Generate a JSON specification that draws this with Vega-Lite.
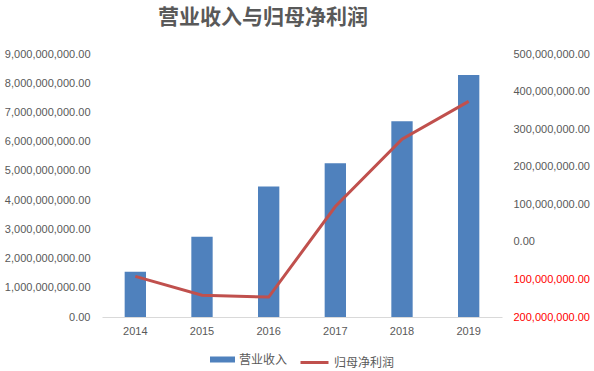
{
  "$schema": "https://vega.github.io/schema/vega-lite/v6.json",
  "autosize": "none",
  "width": 400,
  "height": 263,
  "padding": {"left": 102, "top": 54, "right": 92, "bottom": 54},
  "background": "white",
  "title": {
    "text": "营业收入与归母净利润",
    "anchor": "start",
    "frame": "group",
    "dx": 56,
    "offset": 20,
    "fontSize": 21,
    "font": "Noto Sans CJK SC",
    "fontWeight": "bold",
    "color": "#595959"
  },
  "config": {
    "view": {"stroke": null},
    "axis": {"labelFont": "Liberation Sans", "labelFontSize": 11, "labelColor": "#595959", "grid": false, "ticks": false, "title": null}
  },
  "data": {
    "values": [
      {"year": "2014", "revenue": 1546000000, "profit": -92000000},
      {"year": "2015", "revenue": 2750000000, "profit": -142000000},
      {"year": "2016", "revenue": 4470000000, "profit": -147000000},
      {"year": "2017", "revenue": 5260000000, "profit": 94000000},
      {"year": "2018", "revenue": 6700000000, "profit": 273000000},
      {"year": "2019", "revenue": 8280000000, "profit": 374000000}
    ]
  },
  "encoding": {
    "x": {
      "field": "year",
      "type": "nominal",
      "scale": {"paddingInner": 0.68, "paddingOuter": 0.34},
      "axis": {"labelAngle": 0, "domainColor": "#d9d9d9", "labelPadding": 8, "title": null}
    }
  },
  "layer": [
    {
      "mark": {"type": "bar", "color": "#4f81bd"},
      "encoding": {
        "y": {
          "field": "revenue",
          "type": "quantitative",
          "scale": {"domain": [0, 9000000000]},
          "axis": {"values": [0, 1000000000, 2000000000, 3000000000, 4000000000, 5000000000, 6000000000, 7000000000, 8000000000, 9000000000], "format": ",.2f", "domain": false, "labelPadding": 12, "orient": "left"}
        },
        "color": {
          "datum": "营业收入",
          "scale": {"range": ["#4f81bd"]},
          "legend": {
            "orient": "none", "legendX": 108, "legendY": 293, "title": null,
            "symbolType": "M-1,-0.24H1V0.24H-1Z", "symbolSize": 625, "symbolStrokeWidth": 0,
            "labelFont": "Noto Sans CJK SC", "labelFontSize": 12, "labelColor": "#595959", "labelOffset": 4
          }
        }
      }
    },
    {
      "mark": {"type": "line", "strokeWidth": 3, "color": "#c0504d"},
      "encoding": {
        "y": {
          "field": "profit",
          "type": "quantitative",
          "scale": {"domain": [-200000000, 500000000]},
          "axis": {
            "orient": "right",
            "values": [-200000000, -100000000, 0, 100000000, 200000000, 300000000, 400000000, 500000000],
            "labelExpr": "format(abs(datum.value), ',.2f')",
            "labelColor": {"condition": {"test": "datum.value < 0", "value": "#ff0000"}, "value": "#595959"},
            "domain": false,
            "labelPadding": 11
          }
        },
        "stroke": {
          "datum": "归母净利润",
          "scale": {"range": ["#c0504d"]},
          "legend": {
            "orient": "none", "legendX": 197, "legendY": 293, "title": null,
            "symbolType": "stroke", "symbolSize": 784, "symbolStrokeWidth": 3,
            "labelFont": "Noto Sans CJK SC", "labelFontSize": 12, "labelColor": "#595959", "labelOffset": 4
          }
        }
      }
    }
  ],
  "resolve": {"scale": {"y": "independent", "color": "independent", "stroke": "independent"}}
}
